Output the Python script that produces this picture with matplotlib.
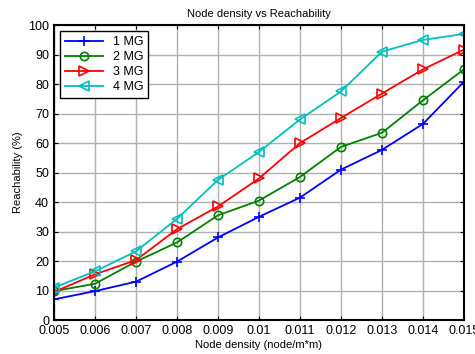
import numpy as np
import matplotlib
matplotlib.use('Agg')
import matplotlib.pyplot as plt

plt.rcParams['font.family'] = ['Liberation Sans', 'DejaVu Sans']

density = [0.005, 0.006, 0.007, 0.008, 0.009, 0.01, 0.011, 0.012, 0.013, 0.014, 0.015]
mg1 = [7, 9.8, 13, 19.8, 28, 35, 41.5, 51, 57.7, 66.5, 80.8]
mg2 = [9.8, 12.3, 19.8, 26.3, 35.5, 40.5, 48.5, 58.7, 63.5, 74.5, 85]
mg3 = [9.5, 15.5, 20.3, 30.8, 38.5, 48, 60, 68.5, 76.8, 85, 91.7]
mg4 = [11, 16.5, 23.3, 34.3, 47.5, 57, 68, 77.5, 91, 95, 97]
xticks = [0.005, 0.006, 0.007, 0.008, 0.009, 0.01, 0.011, 0.012, 0.013, 0.014, 0.015]
xticklabels = ['0.005', '0.006', '0.007', '0.008', '0.009', '0.01', '0.011', '0.012', '0.013', '0.014', '0.015']

fig = plt.figure(figsize=(4.75, 3.54), dpi=100)
ax = fig.add_axes([0.1137, 0.096, 0.863, 0.833])

ax.plot(density, mg1, color='#0000ff', marker='+', ms=7, mew=1.2, lw=1.3, label='1 MG')
ax.plot(density, mg2, color='#008000', marker='o', ms=6, mfc='none', mew=1.2, lw=1.3, label='2 MG')
ax.plot(density, mg3, color='#ff0000', marker='>', ms=7, mfc='none', mew=1.2, lw=1.3, label='3 MG')
ax.plot(density, mg4, color='#00bfbf', marker='<', ms=7, mfc='none', mew=1.2, lw=1.3, label='4 MG')

ax.set_xlim(0.005, 0.015)
ax.set_ylim(0, 100)
ax.set_xticks(xticks)
ax.set_xticklabels(xticklabels)
ax.set_yticks(np.arange(0, 101, 10))
ax.grid(True, color='#b0b0b0', lw=1.0)
ax.set_axisbelow(True)
ax.tick_params(direction='in', top=True, right=True, labelsize=9, length=3)
for s in ax.spines.values():
    s.set_linewidth(1.5)

ax.set_title('Node density vs Reachability', fontsize=8, pad=6)
ax.set_xlabel('Node density (node/m*m)', fontsize=8, labelpad=2)
ax.set_ylabel('Reachability (%)', fontsize=8)

leg = ax.legend(loc='upper left', bbox_to_anchor=(0.015, 0.98), borderaxespad=0, fontsize=9,
                fancybox=False, edgecolor='black', framealpha=1, handlelength=3.0,
                borderpad=0.4, labelspacing=0.25)
leg.get_frame().set_linewidth(1.0)

fig.savefig('out.png', dpi=100)
